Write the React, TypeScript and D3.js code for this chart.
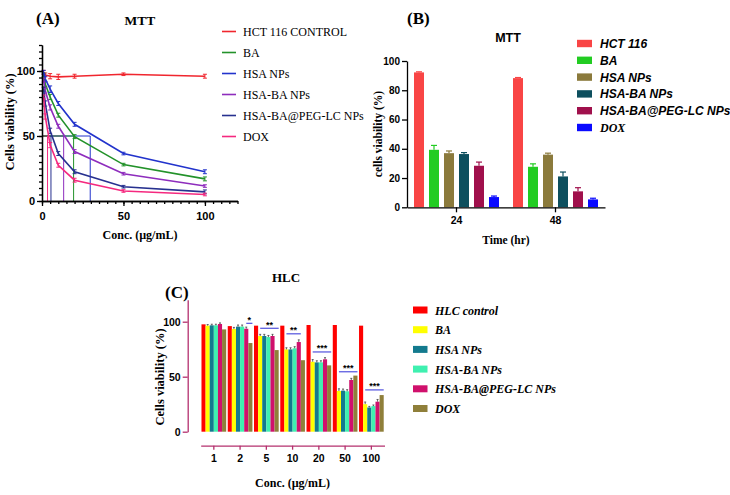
import * as React from "react"
import * as d3 from "d3"

// ---- Panel A : MTT dose-response ----
const concA = [1, 2, 5, 10, 20, 50, 100]
const namesA = ["HCT 116 CONTROL", "BA", "HSA NPs", "HSA-BA NPs", "HSA-BA@PEG-LC NPs", "DOX"]
const colorsA = ["#f0262e", "#23922a", "#2233cc", "#8e2dbd", "#27318f", "#f5297f"]
const valuesA = [
  [99, 97, 96, 95.5, 96, 97.5, 96],
  [97, 90, 80, 66, 49.5, 28, 17],
  [99, 94, 86, 75, 59, 36.5, 22.5],
  [93, 85, 72, 57.5, 38, 21, 11.5],
  [86, 75, 54, 36.5, 22.5, 11, 7],
  [80, 65, 43, 27.5, 16, 7.7, 5],
]
const errorsA = [
  [1.5, 1.5, 2, 2, 1.5, 1, 1.5],
  [1.5, 2, 2, 1.5, 1.5, 1, 1.5],
  [1.5, 2, 2.5, 1.5, 1.5, 1, 1.5],
  [1.5, 2, 2, 1.5, 1.5, 1, 1],
  [1.5, 2, 2, 1.5, 1.5, 1, 1.5],
  [1.5, 2, 2, 1.5, 1.5, 1, 1],
]
const ic50A = [null, 19.4, 29.6, 13.3, 5.5, 3.4]
const ic50Order = [2, 3, 4, 5, 1]
const ticksA = [0, 50, 100]

// ---- Panel B : MTT by time ----
const timesB = ["24", "48"]
const namesB = ["HCT 116", "BA", "HSA NPs", "HSA-BA NPs", "HSA-BA@PEG-LC NPs", "DOX"]
const colorsB = ["#f94545", "#22cc22", "#8b7a3c", "#0d4f5e", "#a0104c", "#0a0aff"]
const valuesB = [
  [92.2, 88.3],
  [39.3, 27.7],
  [37, 36],
  [36.4, 21.1],
  [28.4, 10.9],
  [7, 5.4],
]
const errorsB = [
  [0.4, 0.4],
  [3, 2],
  [1.5, 1],
  [1, 3],
  [2.5, 2.5],
  [0.7, 0.8],
]
const ticksB = [0, 20, 40, 60, 80, 100]

// ---- Panel C : HLC ----
const concC = ["1", "2", "5", "10", "20", "50", "100"]
const namesC = ["HLC control", "BA", "HSA NPs", "HSA-BA NPs", "HSA-BA@PEG-LC NPs", "DOX"]
const colorsC = ["#ff0000", "#ffff00", "#137a8e", "#3ff0b0", "#d0106c", "#8f7f3a"]
const valuesC = [
  [97.6, 96, 96.4, 96.4, 97, 97, 96.4],
  [96.4, 93.3, 87, 74.8, 63.6, 37, 25],
  [96.7, 95.5, 87, 74.8, 63, 37.3, 22],
  [96.7, 95.5, 86, 75.8, 63, 36.7, 23.3],
  [97.9, 93.6, 87, 81.5, 65.8, 47, 27.3],
  [93, 80.6, 74.2, 65, 60.3, 51, 33.3],
]
const errorsC = [
  [0, 0, 0, 0, 0, 0, 0],
  [1, 1.5, 1.5, 1.5, 2, 2, 2],
  [1, 1.5, 1.5, 1.5, 1.5, 1.5, 1],
  [1, 1.5, 1.5, 1.5, 1.5, 1.5, 1],
  [1, 1.5, 1.5, 2, 1.5, 1.5, 2],
  [0, 0, 0, 0, 0, 0, 0],
]
const ticksC = [0, 50, 100]
const sigC = [
  { group: "2", level: 98.5, label: "*", from: 4, to: 5 },
  { group: "5", level: 94, label: "**", from: 1, to: 5 },
  { group: "10", level: 89, label: "**", from: 1, to: 4 },
  { group: "20", level: 72.5, label: "***", from: 1, to: 5 },
  { group: "50", level: 54.5, label: "***", from: 1, to: 5 },
  { group: "100", level: 38, label: "***", from: 1, to: 5 },
]

const SERIF = "'Liberation Serif', 'Times New Roman', serif"
const SANS = "'Liberation Sans', Arial, sans-serif"

function styleAxis(g: d3.Selection<SVGGElement, unknown, null, undefined>, color = "#000", size = 10) {
  g.selectAll("path").attr("stroke", color).attr("stroke-width", 1.3)
  g.selectAll("line").attr("stroke", color).attr("stroke-width", 1.3)
  g.selectAll("text")
    .attr("fill", "#000")
    .style("font-family", SANS)
    .style("font-weight", "bold")
    .style("font-size", `${size}px`)
}

function drawA(svg: d3.Selection<SVGSVGElement, unknown, null, undefined>) {
  const g = svg.append("g")
  const x = d3.scaleLinear().domain([0, 120]).range([42, 237.5])
  const y = d3.scaleLinear().domain([0, 120]).range([201, 45])

  // IC50 guides
  ic50Order.forEach((i) => {
    g.append("line")
      .attr("x1", x(0))
      .attr("x2", x(ic50A[i] as number))
      .attr("y1", y(50))
      .attr("y2", y(50))
      .attr("stroke", colorsA[i])
      .attr("stroke-width", 1)
  })
  ic50A.forEach((v, i) => {
    if (v == null) return
    g.append("line")
      .attr("x1", x(v))
      .attr("x2", x(v))
      .attr("y1", y(50))
      .attr("y2", y(0))
      .attr("stroke", colorsA[i])
      .attr("stroke-width", 1)
  })

  const line = d3
    .line<number>()
    .x((_, j) => x(concA[j]))
    .y((d) => y(d))

  valuesA.forEach((vals, i) => {
    const s = g.append("g")
    s.append("path")
      .attr("d", line(vals))
      .attr("fill", "none")
      .attr("stroke", colorsA[i])
      .attr("stroke-width", 1.6)
    vals.forEach((v, j) => {
      const e = errorsA[i][j]
      const cx = x(concA[j])
      s.append("line").attr("x1", cx).attr("x2", cx).attr("y1", y(v - e)).attr("y2", y(v + e))
        .attr("stroke", colorsA[i]).attr("stroke-width", 1)
      ;[v - e, v + e].forEach((c) =>
        s.append("line").attr("x1", cx - 2).attr("x2", cx + 2).attr("y1", y(c)).attr("y2", y(c))
          .attr("stroke", colorsA[i]).attr("stroke-width", 1)
      )
    })
  })

  // axes
  const xMinor = g.append("g").attr("transform", `translate(0,${y(0)})`)
    .call(d3.axisBottom(x).tickValues(d3.range(0, 121, 5)).tickSize(3).tickSizeOuter(0).tickFormat(() => ""))
  styleAxis(xMinor)
  const xAxis = g.append("g").attr("transform", `translate(0,${y(0)})`)
    .call(d3.axisBottom(x).tickValues(ticksA).tickSize(5).tickSizeOuter(0).tickPadding(6))
  styleAxis(xAxis, "#000", 11)
  const yMinor = g.append("g").attr("transform", `translate(${x(0)},0)`)
    .call(d3.axisLeft(y).tickValues(d3.range(0, 121, 5)).tickSize(3).tickSizeOuter(0).tickFormat(() => ""))
  styleAxis(yMinor)
  const yAxis = g.append("g").attr("transform", `translate(${x(0)},0)`)
    .call(d3.axisLeft(y).tickValues(ticksA).tickSize(5).tickSizeOuter(0).tickPadding(2))
  styleAxis(yAxis, "#000", 11)

  g.append("text").attr("x", 36).attr("y", 24).text("(A)")
    .style("font-family", SERIF).style("font-weight", "bold").style("font-size", "17px")
  g.append("text").attr("x", 140).attr("y", 25).attr("text-anchor", "middle").text("MTT")
    .style("font-family", SERIF).style("font-weight", "bold").style("font-size", "13.5px")
  g.append("text").attr("transform", "translate(14,122) rotate(-90)").attr("text-anchor", "middle")
    .text("Cells viability (%)")
    .style("font-family", SERIF).style("font-weight", "bold").style("font-size", "12.5px")
  g.append("text").attr("x", 140).attr("y", 239).attr("text-anchor", "middle").text("Conc. (µg/mL)")
    .style("font-family", SERIF).style("font-weight", "bold").style("font-size", "12px")

  const leg = g.append("g")
  namesA.forEach((n, i) => {
    const ly = 31.5 + i * 21
    leg.append("line").attr("x1", 222).attr("x2", 236).attr("y1", ly).attr("y2", ly)
      .attr("stroke", colorsA[i]).attr("stroke-width", 1.6)
    leg.append("text").attr("x", 243).attr("y", ly + 4).text(n)
      .style("font-family", SERIF).style("font-size", "12px")
  })
}

function drawB(svg: d3.Selection<SVGSVGElement, unknown, null, undefined>) {
  const g = svg.append("g")
  const x = d3.scaleBand().domain(timesB).range([407, 605])
  const inner = d3.scaleBand().domain(namesB).range([-45, 45]).paddingInner(1 / 3).paddingOuter(1 / 6)
  const y = d3.scaleLinear().domain([0, 100]).range([207.3, 61])

  timesB.forEach((t, j) => {
    const cx = (x(t) as number) + x.bandwidth() / 2
    namesB.forEach((n, i) => {
      const v = valuesB[i][j]
      const bx = cx + (inner(n) as number)
      const e = errorsB[i][j]
      const mid = bx + inner.bandwidth() / 2
      g.append("line").attr("x1", mid).attr("x2", mid).attr("y1", y(v)).attr("y2", y(v + e))
        .attr("stroke", colorsB[i]).attr("stroke-width", 1.2)
      g.append("line").attr("x1", mid - 3).attr("x2", mid + 3).attr("y1", y(v + e)).attr("y2", y(v + e))
        .attr("stroke", colorsB[i]).attr("stroke-width", 1.2)
      g.append("rect").attr("x", bx).attr("y", y(v)).attr("width", inner.bandwidth())
        .attr("height", y(0) - y(v)).attr("fill", colorsB[i])
    })
  })

  const xAxis = g.append("g").attr("transform", `translate(0,${y(0)})`)
    .call(d3.axisBottom(x).tickSize(5).tickSizeOuter(0).tickPadding(4))
  styleAxis(xAxis, "#000", 10.5)
  const yAxis = g.append("g").attr("transform", `translate(407,0)`)
    .call(d3.axisLeft(y).tickValues(ticksB).tickSize(5).tickSizeOuter(0).tickPadding(2))
  styleAxis(yAxis, "#000", 10)

  g.append("text").attr("x", 407).attr("y", 24).text("(B)")
    .style("font-family", SERIF).style("font-weight", "bold").style("font-size", "17px")
  g.append("text").attr("x", 508).attr("y", 42).attr("text-anchor", "middle").text("MTT")
    .style("font-family", SANS).style("font-weight", "bold").style("font-size", "12.5px")
  g.append("text").attr("transform", "translate(382,134) rotate(-90)").attr("text-anchor", "middle")
    .text("cells viability (%)")
    .style("font-family", SERIF).style("font-weight", "bold").style("font-size", "11.5px")
  g.append("text").attr("x", 506).attr("y", 244).attr("text-anchor", "middle").text("Time (hr)")
    .style("font-family", SERIF).style("font-weight", "bold").style("font-size", "11.5px")

  namesB.forEach((n, i) => {
    const ly = 43.5 + i * 16.8
    g.append("rect").attr("x", 577).attr("y", ly - 3.7).attr("width", 15).attr("height", 7.4).attr("fill", colorsB[i])
    g.append("text").attr("x", 600).attr("y", ly + 4.5).text(n)
      .style("font-family", n === "DOX" ? SERIF : SANS)
      .style("font-weight", "bold").style("font-style", "italic").style("font-size", "12px")
  })
}

function drawC(svg: d3.Selection<SVGSVGElement, unknown, null, undefined>) {
  const g = svg.append("g")
  const axisColor = "#b4306e"
  const x = d3.scaleBand().domain(concC).range([200.7, 384.5]).paddingInner(0.06).paddingOuter(0.03)
  const inner = d3.scaleBand().domain(namesC).range([0, x.bandwidth()])
  const y = d3.scaleLinear().domain([0, 120]).range([431.7, 299.7])

  concC.forEach((c, j) => {
    namesC.forEach((n, i) => {
      const v = valuesC[i][j]
      const bx = (x(c) as number) + (inner(n) as number)
      g.append("rect").attr("x", bx).attr("y", y(v)).attr("width", inner.bandwidth())
        .attr("height", y(0) - y(v)).attr("fill", colorsC[i])
      const e = errorsC[i][j]
      if (e > 0) {
        const mid = bx + inner.bandwidth() / 2
        g.append("line").attr("x1", mid).attr("x2", mid).attr("y1", y(v)).attr("y2", y(v + e))
          .attr("stroke", "#444").attr("stroke-width", 0.8)
        g.append("line").attr("x1", mid - 1).attr("x2", mid + 1).attr("y1", y(v + e)).attr("y2", y(v + e))
          .attr("stroke", "#444").attr("stroke-width", 0.8)
      }
    })
  })

  sigC.forEach((s) => {
    const x0 = (x(s.group) as number) + (inner(namesC[s.from]) as number) + inner.bandwidth() / 2
    const x1 = (x(s.group) as number) + (inner(namesC[s.to]) as number) + inner.bandwidth()
    g.append("line").attr("x1", x0).attr("x2", x1).attr("y1", y(s.level)).attr("y2", y(s.level))
      .attr("stroke", "#5e5ee0").attr("stroke-width", 1.3)
    g.append("text").attr("x", (x0 + x1) / 2).attr("y", y(s.level) - 0.5).attr("text-anchor", "middle")
      .text(s.label).style("font-family", SANS).style("font-weight", "bold").style("font-size", "9px")
  })

  const xAxis = g.append("g").attr("transform", `translate(0,445.7)`)
    .call(d3.axisBottom(x).tickSize(4).tickSizeOuter(0).tickPadding(5))
  styleAxis(xAxis, axisColor, 10.5)
  const yAxis = g.append("g").attr("transform", `translate(187.7,0)`)
    .call(d3.axisLeft(y).tickValues(ticksC).tickSize(5).tickSizeOuter(0).tickPadding(2))
  styleAxis(yAxis, axisColor, 10.5)

  g.append("text").attr("x", 165).attr("y", 298).text("(C)")
    .style("font-family", SERIF).style("font-weight", "bold").style("font-size", "17px")
  g.append("text").attr("x", 286).attr("y", 282).attr("text-anchor", "middle").text("HLC")
    .style("font-family", SERIF).style("font-weight", "bold").style("font-size", "13px")
  g.append("text").attr("transform", "translate(164,377) rotate(-90)").attr("text-anchor", "middle")
    .text("Cells viability (%)")
    .style("font-family", SERIF).style("font-weight", "bold").style("font-size", "12.5px")
  g.append("text").attr("x", 292.5).attr("y", 487).attr("text-anchor", "middle").text("Conc. (µg/mL)")
    .style("font-family", SERIF).style("font-weight", "bold").style("font-size", "12px")

  namesC.forEach((n, i) => {
    const ly = 310 + i * 19.7
    g.append("rect").attr("x", 413).attr("y", ly - 3.5).attr("width", 14.5).attr("height", 7).attr("fill", colorsC[i])
    g.append("text").attr("x", 435).attr("y", ly + 4.5).text(n)
      .style("font-family", SERIF).style("font-weight", "bold").style("font-style", "italic").style("font-size", "12px")
  })
}

export default function App(): React.JSX.Element {
  const svgRef = React.useRef<SVGSVGElement>(null)

  React.useEffect(() => {
    if (!svgRef.current) return
    const svg = d3.select(svgRef.current)
    svg.selectAll("*").remove()
    svg.append("rect").attr("width", 730).attr("height", 495).attr("fill", "#fff")
    drawA(svg)
    drawB(svg)
    drawC(svg)
  }, [])

  return (
    <svg
      ref={svgRef}
      width={730}
      height={495}
      style={{ position: "absolute", left: 0, top: 0, display: "block" }}
    />
  )
}
